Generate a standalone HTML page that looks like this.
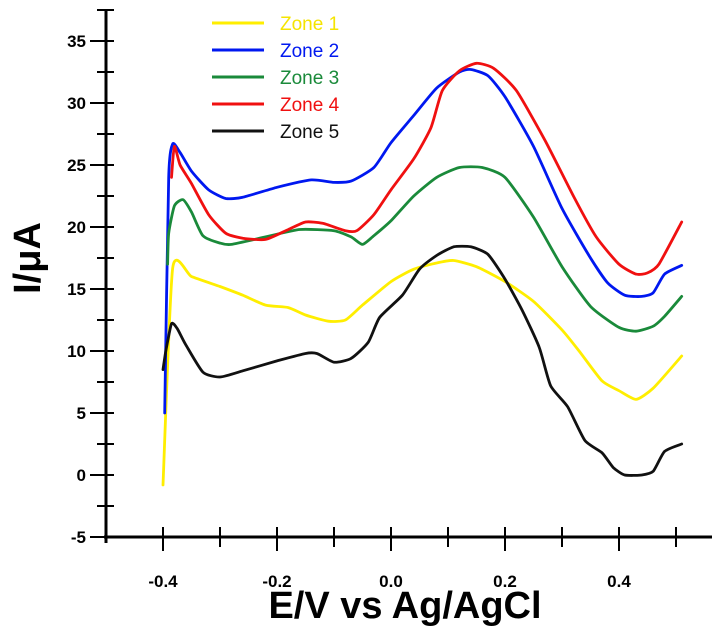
<!DOCTYPE html>
<html><head><meta charset="utf-8"><style>
body{margin:0;background:#fff;}
svg{display:block;font-family:"Liberation Sans",Arial,sans-serif;}
</style></head><body>
<svg id="chart" width="724" height="627" viewBox="0 0 724 627"></svg>
<script>
const xTicks=[-0.4,-0.2,0.0,0.2,0.4];
const xTickLabels=["-0.4","-0.2","0.0","0.2","0.4"];
const yTicks=[-5,0,5,10,15,20,25,30,35];
const seriesNames=["Zone 1","Zone 2","Zone 3","Zone 4","Zone 5"];
const seriesColors=["#ffee00","#0018f0","#1a8a3a","#f01010","#111111"];
const zone1X=[-0.40,-0.383,-0.35,-0.3,-0.26,-0.22,-0.18,-0.15,-0.11,-0.08,-0.05,0.0,0.04,0.08,0.11,0.15,0.2,0.25,0.3,0.33,0.37,0.4,0.43,0.46,0.51];
const zone1Y=[-0.8,16.7,16,15.2,14.5,13.7,13.5,12.9,12.4,12.5,13.7,15.6,16.6,17.1,17.3,16.8,15.6,14,11.7,10,7.6,6.8,6.1,7,9.6];
const zone2X=[-0.397,-0.39,-0.383,-0.37,-0.35,-0.32,-0.29,-0.26,-0.2,-0.14,-0.1,-0.07,-0.03,0.0,0.04,0.08,0.12,0.14,0.17,0.2,0.25,0.3,0.35,0.38,0.41,0.44,0.46,0.48,0.51];
const zone2Y=[5,24,26.7,26,24.5,23,22.3,22.4,23.2,23.8,23.6,23.7,24.8,26.8,29,31.2,32.5,32.7,32.2,30.5,26.5,21.5,17.5,15.5,14.5,14.4,14.7,16.2,16.9];
const zone3X=[-0.392,-0.39,-0.38,-0.365,-0.35,-0.33,-0.3,-0.28,-0.22,-0.16,-0.1,-0.07,-0.05,-0.03,0.0,0.04,0.08,0.12,0.16,0.2,0.25,0.3,0.35,0.4,0.43,0.46,0.48,0.51];
const zone3Y=[17,19.5,21.7,22.2,21.2,19.3,18.7,18.6,19.2,19.8,19.7,19.2,18.6,19.3,20.5,22.5,24,24.8,24.8,24,20.8,16.8,13.6,11.9,11.6,12,12.8,14.4];
const zone4X=[-0.385,-0.38,-0.37,-0.35,-0.32,-0.29,-0.26,-0.22,-0.18,-0.15,-0.12,-0.08,-0.06,-0.03,0.0,0.04,0.07,0.09,0.12,0.15,0.18,0.22,0.27,0.32,0.36,0.4,0.43,0.45,0.47,0.51];
const zone4Y=[24,26.5,25,23.5,21,19.5,19.1,19.0,19.8,20.4,20.3,19.7,19.7,21,23,25.5,28,31,32.6,33.2,32.8,31,27,22.5,19.2,17,16.2,16.3,17,20.4];
const zone5X=[-0.40,-0.395,-0.385,-0.375,-0.36,-0.33,-0.3,-0.26,-0.2,-0.15,-0.13,-0.1,-0.07,-0.04,-0.02,0.02,0.05,0.08,0.11,0.14,0.17,0.2,0.23,0.26,0.28,0.31,0.34,0.37,0.39,0.41,0.44,0.46,0.48,0.51];
const zone5Y=[8.5,10,12.2,11.8,10.5,8.3,7.9,8.4,9.2,9.8,9.8,9.1,9.4,10.7,12.7,14.5,16.6,17.7,18.4,18.4,17.8,15.8,13.3,10.3,7.2,5.5,2.8,1.8,0.6,0,0,0.3,1.9,2.5];
const allX=[zone1X,zone2X,zone3X,zone4X,zone5X];
const allY=[zone1Y,zone2Y,zone3Y,zone4Y,zone5Y];

const NS="http://www.w3.org/2000/svg";
const svg=document.getElementById("chart");
const X0=391,XS=570,Y0=475,YS=12.4;
function sx(v){return X0+XS*v;}
function sy(v){return Y0-YS*v;}
function mk(t,a,txt){const e=document.createElementNS(NS,t);for(const k in a)e.setAttribute(k,a[k]);if(txt!==undefined)e.textContent=txt;svg.appendChild(e);return e;}
function smoothPath(xs,ys){
  const p=xs.map((v,i)=>[sx(v),sy(ys[i])]);
  let d="M"+p[0][0].toFixed(1)+","+p[0][1].toFixed(1);
  for(let i=0;i<p.length-1;i++){
    const p0=p[Math.max(0,i-1)],p1=p[i],p2=p[i+1],p3=p[Math.min(p.length-1,i+2)];
    const t=0.1;
    const c1=[p1[0]+(p2[0]-p0[0])*t,p1[1]+(p2[1]-p0[1])*t];
    const c2=[p2[0]-(p3[0]-p1[0])*t,p2[1]-(p3[1]-p1[1])*t];
    d+=" C"+c1[0].toFixed(1)+","+c1[1].toFixed(1)+" "+c2[0].toFixed(1)+","+c2[1].toFixed(1)+" "+p2[0].toFixed(1)+","+p2[1].toFixed(1);
  }
  return d;
}

const axX=sx(-0.5), axY=sy(-5);
let e=mk("line",{x1:axX,y1:sy(37.5),x2:axX,y2:axY+6,stroke:"#000","stroke-width":3});


e=mk("line",{x1:axX-2,y1:axY,x2:712,y2:axY,stroke:"#000","stroke-width":3});


for(let v=-5;v<=37.5;v+=2.5){
  const major=(v%5===0);
  e=mk("line",{x1:major?axX-16:axX-9,y1:sy(v),x2:axX+8,y2:sy(v),stroke:"#000","stroke-width":2});
  
  
}
yTicks.forEach(v=>{
  const t=mk("text",{x:axX-20,y:sy(v)+6,"text-anchor":"end","font-size":17,"font-weight":"bold"},String(v));
  
  
});
for(let i=-4;i<=5;i++){
  const v=i/10, major=(i%2===0);
  e=mk("line",{x1:sx(v),y1:axY-10,x2:sx(v),y2:axY+(major?14:10),stroke:"#000","stroke-width":2});
  
  
}
xTicks.forEach((v,i)=>{
  const t=mk("text",{x:sx(v),y:axY+50,"text-anchor":"middle","font-size":17,"font-weight":"bold"},xTickLabels[i]);
  
  
});
e=mk("text",{x:405,y:618,"text-anchor":"middle","font-size":38,"font-weight":"bold"},"E/V vs Ag/AgCl");


e=mk("text",{x:0,y:0,"text-anchor":"middle","font-size":38,"font-weight":"bold",transform:"translate(40,258) rotate(-90)"},"I/\u03bcA");



allX.forEach((xs,s)=>{
  const p=mk("path",{d:smoothPath(xs,allY[s]),fill:"none",stroke:seriesColors[s],"stroke-width":2.8,"stroke-linejoin":"round","stroke-linecap":"round"});
  
  
});

const legRows=[23,50,77,104,131];
seriesNames.forEach((n,i)=>{
  const l=mk("line",{x1:212,y1:legRows[i],x2:264,y2:legRows[i],stroke:seriesColors[i],"stroke-width":3});
  
  
  const t=mk("text",{x:280,y:legRows[i]+7,"font-size":19,fill:i===0?"#f5e400":seriesColors[i]},n);
  
  
});
</script>
</body></html>
